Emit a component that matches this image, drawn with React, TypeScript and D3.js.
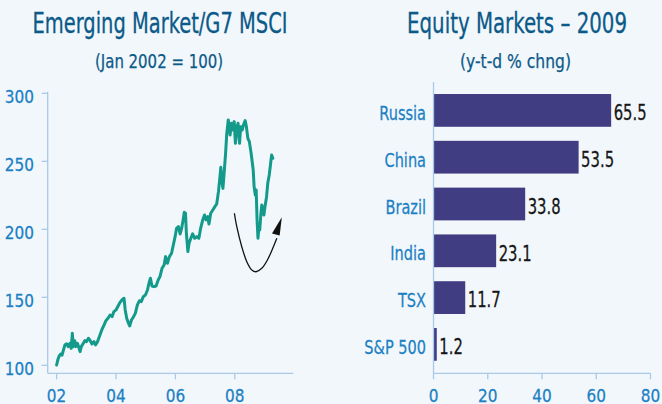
import React from "react";
import * as d3 from "d3";

// ---- Left chart: Emerging Market / G7 MSCI (Jan 2002 = 100) ----
const lineYears = [
  2002.0, 2002.045, 2002.09, 2002.135, 2002.18, 2002.225, 2002.28, 2002.34, 2002.39, 2002.45,
  2002.49, 2002.53, 2002.56, 2002.61, 2002.65, 2002.7, 2002.74, 2002.79, 2002.83, 2002.9,
  2002.955, 2003.01, 2003.07, 2003.12, 2003.19, 2003.26, 2003.31, 2003.38, 2003.46, 2003.53,
  2003.6, 2003.66, 2003.73, 2003.8, 2003.87, 2003.93, 2004.0, 2004.07, 2004.13, 2004.2,
  2004.27, 2004.31, 2004.36, 2004.42, 2004.46, 2004.52, 2004.58, 2004.65, 2004.72, 2004.79,
  2004.85, 2004.92, 2004.99, 2005.06, 2005.11, 2005.16, 2005.21, 2005.28, 2005.35, 2005.42,
  2005.48, 2005.55, 2005.62, 2005.67, 2005.73, 2005.8, 2005.87, 2005.93, 2005.99, 2006.04,
  2006.1, 2006.16, 2006.21, 2006.26, 2006.3, 2006.34, 2006.37, 2006.42, 2006.46, 2006.52,
  2006.58, 2006.65, 2006.72, 2006.79, 2006.85, 2006.92, 2006.98, 2007.03, 2007.09, 2007.13,
  2007.19, 2007.26, 2007.33, 2007.39, 2007.45, 2007.49, 2007.53, 2007.56, 2007.6, 2007.64,
  2007.69, 2007.73, 2007.78, 2007.81, 2007.84, 2007.89, 2007.93, 2007.98, 2008.02, 2008.07,
  2008.11, 2008.16, 2008.2, 2008.25, 2008.29, 2008.35, 2008.39, 2008.44, 2008.49, 2008.55,
  2008.62, 2008.65, 2008.69, 2008.72, 2008.75, 2008.78, 2008.81, 2008.84, 2008.88, 2008.91,
  2008.94, 2008.98, 2009.02, 2009.07, 2009.11, 2009.16, 2009.2, 2009.24, 2009.28,
];
const lineValues = [
  100.2, 104.4, 106.9, 108.3, 107.4, 110.8, 115.0, 115.7, 113.7, 116.2,
  112.5, 123.5, 113.7, 118.1, 113.7, 116.2, 113.7, 110.0, 113.7, 116.2,
  118.1, 117.4, 119.9, 118.6, 115.7, 117.4, 115.0, 117.4, 122.3, 126.5,
  129.7, 132.8, 134.6, 137.0, 135.8, 139.5, 140.7, 143.6, 146.1, 148.0,
  149.3, 140.7, 134.6, 130.9, 128.9, 133.3, 135.3, 138.2, 144.4, 147.5,
  146.8, 150.5, 151.7, 155.4, 160.3, 164.0, 158.3, 157.8, 158.3, 162.7,
  165.2, 171.3, 173.8, 179.9, 175.0, 179.9, 182.4, 188.5, 194.6, 200.7,
  202.0, 196.6, 200.7, 206.9, 212.5, 211.8, 197.1, 183.6, 189.7, 193.4,
  196.6, 193.4, 194.6, 193.4, 200.7, 206.9, 210.5, 206.9, 209.3, 203.9,
  211.8, 214.2, 216.7, 218.6, 227.7, 236.3, 245.6, 236.3, 230.1, 241.2,
  255.9, 270.6, 280.4, 276.7, 269.4, 278.0, 273.0, 279.2, 263.2, 275.5,
  278.0, 263.2, 275.5, 273.0, 276.7, 279.9, 275.5, 266.9, 264.5, 255.9,
  243.6, 231.4, 225.2, 228.9, 206.9, 193.4, 200.7, 199.5, 211.8, 217.9,
  213.0, 210.5, 217.2, 224.0, 233.8, 240.0, 247.3, 254.7, 252.2,
];
const leftYTicks = [100, 150, 200, 250, 300];
const leftXTicks = [2002, 2004, 2006, 2008];
const leftXTickLabels = ["02", "04", "06", "08"];

// annotation arrow (year, index value)
const arrowYears = [2007.986, 2008.067, 2008.235, 2008.404, 2008.572, 2008.717, 2008.909, 2009.098, 2009.3, 2009.415];
const arrowValues = [211.8, 201.9, 187.2, 176.2, 170.1, 168.8, 171.3, 177.4, 187.2, 193.4];
const arrowHeadYears = [2009.583, 2009.253, 2009.51];
const arrowHeadValues = [208.8, 196.9, 195.4];

// ---- Right chart: Equity Markets – 2009 (y-t-d % chng) ----
const barCategories = ["Russia", "China", "Brazil", "India", "TSX", "S&P 500"];
const barValues = [65.5, 53.5, 33.8, 23.1, 11.7, 1.2];
const barXTicks = [0, 20, 40, 60, 80];

const FONT = "'Liberation Sans Narrow', 'DejaVu Sans Condensed', 'Arial Narrow', sans-serif";
const BG = "#f2f7fc";
const TITLE = "#0c5a88";
const TICK = "#1b80c3";
const AXIS = "#a9c9e7";
const TEAL = "#139a8b";
const BAR = "#403d83";

type LabelProps = {
  x: number;
  y: number;
  size: number;
  sx: number;
  fill: string;
  anchor?: "start" | "middle" | "end";
  children: React.ReactNode;
};

function Label({ x, y, size, sx, fill, anchor = "start", children }: LabelProps) {
  return (
    <text
      transform={`translate(${x},${y}) scale(${sx},1)`}
      textAnchor={anchor}
      fontSize={size}
      fill={fill}
      stroke={fill}
      strokeWidth={0.25}
    >
      {children}
    </text>
  );
}

export default function App() {
  // left scales
  const xL = d3.scaleLinear().domain([2001.7, 2009.97]).range([47.7, 293.3]);
  const yL = d3.scaleLinear().domain([94.1, 301.2]).range([373.3, 91.7]);
  const linePts = lineYears.map((t, i) => [t, lineValues[i]] as [number, number]);
  const line = d3
    .line<[number, number]>()
    .x((d) => xL(d[0]))
    .y((d) => yL(d[1]));
  const arrowPts = arrowYears.map((t, i) => [t, arrowValues[i]] as [number, number]);
  const arrowLine = d3
    .line<[number, number]>()
    .x((d) => xL(d[0]))
    .y((d) => yL(d[1]))
    .curve(d3.curveCatmullRom);
  const headPts = arrowHeadYears.map((t, i) => `${xL(t)},${yL(arrowHeadValues[i])}`).join(" ");

  // right scales
  const xR = d3.scaleLinear().domain([0, 80]).range([433.5, 650.5]);
  const yR = d3
    .scaleBand<string>()
    .domain(barCategories)
    .range([87, 367.8])
    .paddingInner(0.3)
    .paddingOuter(0.15);

  return (
    <svg
      width={662}
      height={404}
      style={{ position: "absolute", left: 0, top: 0, display: "block" }}
      fontFamily={FONT}
    >
      <rect x={0} y={0} width={662} height={404} fill={BG} />

      {/* Titles */}
      <text x={160} y={33.3} textAnchor="middle" fontSize={28.5} fill={TITLE} stroke={TITLE} strokeWidth={0.3} textLength={255} lengthAdjust="spacingAndGlyphs">
        Emerging Market/G7 MSCI
      </text>
      <text x={159} y={68.3} textAnchor="middle" fontSize={19.5} fill={TITLE} stroke={TITLE} strokeWidth={0.25} textLength={128} lengthAdjust="spacingAndGlyphs">
        (Jan 2002 = 100)
      </text>
      <text x={517} y={33.3} textAnchor="middle" fontSize={28.5} fill={TITLE} stroke={TITLE} strokeWidth={0.3} textLength={220} lengthAdjust="spacingAndGlyphs">
        Equity Markets – 2009
      </text>
      <text x={515.5} y={68.3} textAnchor="middle" fontSize={19.5} fill={TITLE} stroke={TITLE} strokeWidth={0.25} textLength={111} lengthAdjust="spacingAndGlyphs">
        (y-t-d % chng)
      </text>

      {/* Left chart axes */}
      <line x1={xL.range()[0]} x2={xL.range()[0]} y1={yL.range()[1]} y2={yL.range()[0]} stroke={AXIS} strokeWidth={1.3} />
      <line x1={xL.range()[0]} x2={xL.range()[1]} y1={yL.range()[0]} y2={yL.range()[0]} stroke={AXIS} strokeWidth={1.3} />
      {leftYTicks.map((v) => (
        <g key={v}>
          <line x1={xL.range()[0] - 6} x2={xL.range()[0]} y1={yL(v)} y2={yL(v)} stroke={AXIS} strokeWidth={1.3} />
          <Label x={34} y={yL(v) + 9.4} size={18.5} sx={0.92} fill={TICK} anchor="end">
            {v}
          </Label>
        </g>
      ))}
      {leftXTicks.map((t, i) => (
        <g key={t}>
          <line x1={xL(t)} x2={xL(t)} y1={yL.range()[0]} y2={yL.range()[0] + 6} stroke={AXIS} strokeWidth={1.3} />
          <Label x={xL(t)} y={402} size={18.5} sx={0.92} fill={TICK} anchor="middle">
            {leftXTickLabels[i]}
          </Label>
        </g>
      ))}
      <path d={line(linePts) || ""} fill="none" stroke={TEAL} strokeWidth={3} strokeLinejoin="round" strokeLinecap="round" />
      <path d={arrowLine(arrowPts) || ""} fill="none" stroke="#111" strokeWidth={1.3} />
      <polygon points={headPts} fill="#111" />

      {/* Right chart */}
      {barCategories.map((c, i) => {
        const y0 = yR(c) as number;
        const bw = yR.bandwidth();
        return (
          <g key={c}>
            <rect x={xR(0)} y={y0} width={xR(barValues[i]) - xR(0)} height={bw} fill={BAR} />
            <Label x={426} y={y0 + bw / 2 + 9.6} size={20.2} sx={0.8} fill={TICK} anchor="end">
              {c}
            </Label>
            <Label x={xR(barValues[i]) + 2.5} y={y0 + bw / 2 + 9.8} size={20.6} sx={0.8} fill="#161616">
              {barValues[i]}
            </Label>
          </g>
        );
      })}
      <line x1={xR(0)} x2={xR(0)} y1={82} y2={373.3} stroke={AXIS} strokeWidth={1.3} />
      <line x1={xR(0)} x2={xR(80)} y1={373.3} y2={373.3} stroke={AXIS} strokeWidth={1.3} />
      {barXTicks.map((t) => (
        <g key={t}>
          <line x1={xR(t)} x2={xR(t)} y1={373.3} y2={379.3} stroke={AXIS} strokeWidth={1.3} />
          <Label x={xR(t)} y={402} size={18.5} sx={0.92} fill={TICK} anchor="middle">
            {t}
          </Label>
        </g>
      ))}
    </svg>
  );
}
